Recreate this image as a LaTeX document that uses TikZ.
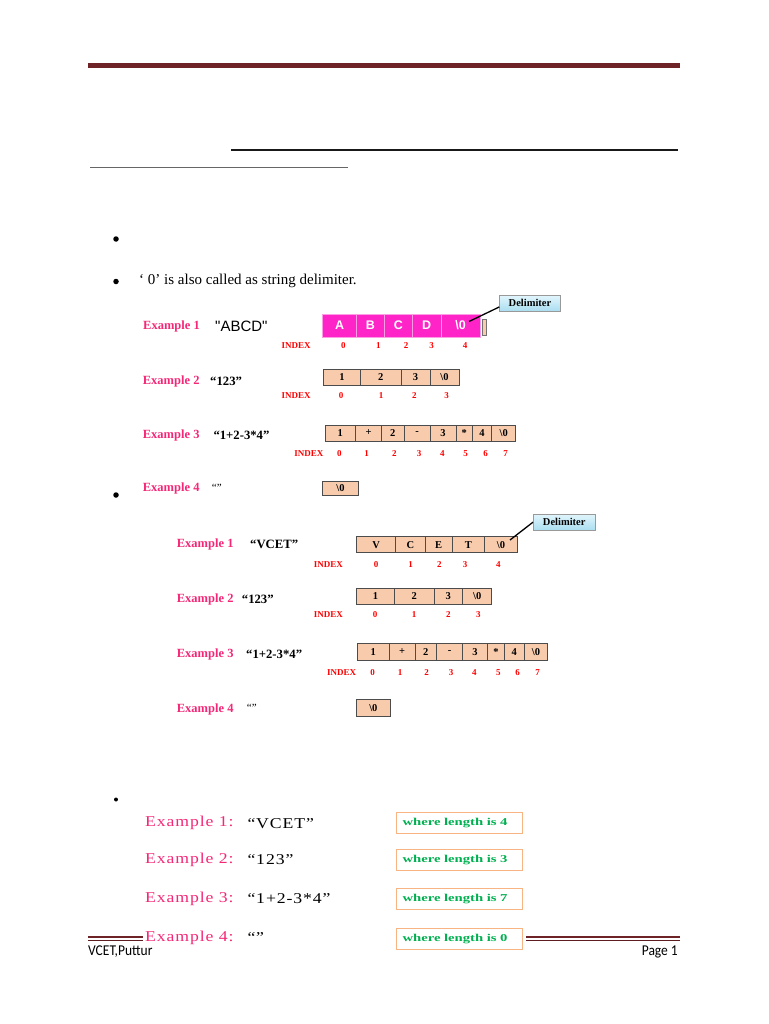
\documentclass[tikz,border=0pt]{standalone}
\usepackage{fontspec}
\setmainfont{Liberation Serif}
\newfontfamily\arialf{Liberation Sans}
\newfontfamily\footf[FakeStretch=0.9]{Carlito}
\newfontfamily\spacedf[FakeStretch=1.18,LetterSpace=6]{Liberation Serif}
\newfontfamily\greenf[FakeStretch=1.4]{Liberation Serif}
\definecolor{rulered}{RGB}{110,35,38}
\definecolor{mag}{RGB}{255,36,200}
\definecolor{peach}{RGB}{248,203,173}
\definecolor{expink}{RGB}{245,40,120}
\definecolor{lenorange}{RGB}{248,180,130}
\definecolor{lengreen}{RGB}{0,176,80}
\definecolor{idxred}{RGB}{255,0,0}
\definecolor{dtop}{RGB}{225,245,252}
\definecolor{dbot}{RGB}{170,222,240}
\newcommand\cellrow[6]{%
  \foreach \a/\b/\t [count=\i] in {#6} {
    \path[#4] (\a,#2) rectangle (\b,#3);
    \node[#5] (#1\i) at ({(\a+\b)/2},{(#2+#3)/2}) {\t};
  }}
\newcommand\idxrow[3]{%
  \foreach \p/\t [count=\i] in {#3} {
    \node[idx] (#1\i) at (\p,#2) {\t};
  }}
\begin{document}
\begin{tikzpicture}[x=1pt,y=-1pt,
  exlab/.style={anchor=west,text=expink,font=\bfseries\fontsize{12.5}{14}\selectfont,inner sep=0pt},
  strlab/.style={anchor=west,font=\bfseries\fontsize{12.7}{14}\selectfont,inner sep=0pt},
  idx/.style={text=idxred,font=\bfseries\fontsize{9}{10}\selectfont,inner sep=0pt},
  celltxt/.style={font=\bfseries\fontsize{10.5}{12}\selectfont,inner sep=0pt},
  pinktxt/.style={text=white,font=\arialf\bfseries\fontsize{12.5}{14}\selectfont,inner sep=0pt},
  tancell/.style={fill=peach,draw=black!70,line width=1pt},
  pinkcell/.style={fill=mag,draw=mag!45!white,line width=0.6pt},
  delim/.style={draw=black!40,line width=0.5pt,top color=dtop,bottom color=dbot,
    font=\bfseries\fontsize{10.5}{12}\selectfont,minimum width=61pt,minimum height=15.5pt,inner sep=0pt},
  delimline/.style={line width=1.3pt,black},
  bullet/.style={circle,fill=black,inner sep=0pt,minimum size=5.5pt},
  bodytxt/.style={anchor=west,font=\fontsize{15}{17}\selectfont,inner sep=0pt},
  bigex/.style={anchor=west,text=expink,font=\spacedf\fontsize{15}{17}\selectfont,inner sep=0pt},
  bigstr/.style={anchor=west,font=\spacedf\fontsize{15}{17}\selectfont,inner sep=0pt},
  lenbox/.style={anchor=west,draw=lenorange,line width=1pt,fill=white,minimum height=21pt,
    text width=114pt,align=left,inner xsep=6pt,inner ysep=0pt,text=lengreen,
    font=\greenf\bfseries\fontsize{10.5}{12}\selectfont},
  foot/.style={font=\footf\fontsize{15}{17}\selectfont,inner sep=0pt}
]
\fill[white] (0,0) rectangle (768,1024);
\useasboundingbox (0,0) rectangle (768,1024);

% header rule and underlines
\fill[rulered] (88,63.5) rectangle (680,68.5);
\draw[line width=1.2pt,black!90] (231,150) -- (678,150);
\draw[line width=1.5pt,black!60] (90,167.5) -- (348,167.5);

% bullets and text
\node[bullet] (b1) at (116,239) {};
\node[bullet] (b2) at (116,281.5) {};
\node[bodytxt] (t2) at (139,281) {‘ 0’ is also called as string delimiter.};
\node[bullet] (b3) at (116,495) {};
\node[bullet,minimum size=4pt] (b4) at (116,799.5) {};

% ---------- Section 1 ----------
\node[exlab] (s1e1) at (143,326.7) {Example 1};
\node[anchor=west,font=\arialf\fontsize{15}{17}\selectfont,inner sep=0pt] (s1s1) at (215,326.5) {"ABCD"};
\cellrow{s1r1c}{314}{337}{pinkcell}{pinktxt}{322.7/356.7/A,356.7/384.3/B,384.3/412.3/C,412.3/441/D,441/480/{\textbackslash0}}
\path[fill=peach,draw=black!55,line width=0.6pt] (482,319.5) rectangle (486.5,335);
\node[delim] (delim1) at (530,303.2) {Delimiter};
\coordinate (d1tail) at (469,321.5);
\draw[delimline] (d1tail) -- (delim1.187);
\node[idx] (s1i1) at (296.2,345.5) {INDEX};
\idxrow{s1r1i}{345.5}{343.3/0,378.3/1,406/2,431.7/3,465/4}

\node[exlab] (s1e2) at (142.7,381.7) {Example 2};
\node[strlab] (s1s2) at (210,381.7) {“123”};
\cellrow{s1r2c}{369.3}{385.7}{tancell}{celltxt}{323.3/360.7/1,360.7/401/2,401/430/3,430/459/{\textbackslash0}}
\node[idx] (s1i2) at (296.2,396) {INDEX};
\idxrow{s1r2i}{396}{341/0,381/1,414.3/2,446.7/3}

\node[exlab] (s1e3) at (142.7,435) {Example 3};
\node[strlab] (s1s3) at (213.3,435) {“1+2-3*4”};
\cellrow{s1r3c}{425}{441}{tancell}{celltxt}{325/355.7/1,355.7/381.7/+,381.7/404/2,404/430/-,430/456/3,456/472.3/*,472.3/491.7/4,491.7/515.7/{\textbackslash0}}
\node[idx] (s1i3) at (308.8,454) {INDEX};
\idxrow{s1r3i}{454}{339.3/0,366.7/1,394.3/2,419/3,442.3/4,465.7/5,485.7/6,505.7/7}

\node[exlab] (s1e4) at (142.7,488.3) {Example 4};
\node[strlab,font=\fontsize{11}{12}\selectfont] (s1s4) at (211.7,487.5) {“”};
\cellrow{s1r4c}{481}{495}{tancell}{celltxt}{322.7/358.3/{\textbackslash0}}

% ---------- Section 2 ----------
\node[exlab] (s2e1) at (176.7,544.3) {Example 1};
\node[strlab] (s2s1) at (250,544.3) {“VCET”};
\cellrow{s2r1c}{536.7}{552.7}{tancell}{celltxt}{356.7/395.7/V,395.7/425/C,425/452.3/E,452.3/484.3/T,484.3/517.7/{\textbackslash0}}
\node[delim,minimum width=62pt,minimum height=16pt] (delim2) at (564.2,522.2) {Delimiter};
\coordinate (d2tail) at (510,540);
\draw[delimline] (d2tail) -- (delim2.west);
\node[idx] (s2i1) at (328.3,564.3) {INDEX};
\idxrow{s2r1i}{564.3}{376/0,410.7/1,439.3/2,465/3,498.3/4}

\node[exlab] (s2e2) at (176.7,599.3) {Example 2};
\node[strlab] (s2s2) at (241.7,599.3) {“123”};
\cellrow{s2r2c}{588.3}{604}{tancell}{celltxt}{356.7/394.3/1,394.3/434/2,434/462.7/3,462.7/491.7/{\textbackslash0}}
\node[idx] (s2i2) at (328.3,614.3) {INDEX};
\idxrow{s2r2i}{614.3}{375/0,414/1,448.3/2,478.3/3}

\node[exlab] (s2e3) at (176.7,654) {Example 3};
\node[strlab] (s2s3) at (246,654) {“1+2-3*4”};
\cellrow{s2r3c}{643.3}{660.7}{tancell}{celltxt}{357.3/389.3/1,389.3/415/+,415/436.7/2,436.7/462.3/-,462.3/487.7/3,487.7/504.3/*,504.3/524.3/4,524.3/547.7/{\textbackslash0}}
\node[idx] (s2i3) at (341.7,672.7) {INDEX};
\idxrow{s2r3i}{672.7}{372.7/0,400/1,426.7/2,451/3,474.3/4,498.3/5,517.7/6,537.7/7}

\node[exlab] (s2e4) at (176.7,709) {Example 4};
\node[strlab,font=\fontsize{11}{12}\selectfont] (s2s4) at (246.7,708) {“”};
\cellrow{s2r4c}{699.3}{716}{tancell}{celltxt}{356.7/390/{\textbackslash0}}

% ---------- Section 3 ----------
\node[bigex] (s3e1) at (145,823.3) {Example 1:};
\node[bigstr] (s3s1) at (247.3,823.3) {“VCET”};
\node[lenbox] (len1) at (396,823.3) {where length is 4};

\node[bigex] (s3e2) at (145,860) {Example 2:};
\node[bigstr] (s3s2) at (247.3,860) {“123”};
\node[lenbox] (len2) at (396,860) {where length is 3};

\node[bigex] (s3e3) at (145,899) {Example 3:};
\node[bigstr] (s3s3) at (247.3,899) {“1+2-3*4”};
\node[lenbox] (len3) at (396,899) {where length is 7};

% footer rules
\draw[rulered,line width=2pt] (88,937.2) -- (143,937.2);
\draw[rulered!85!black,line width=0.8pt] (88,940) -- (143,940);
\draw[rulered,line width=2pt] (526,937.2) -- (680,937.2);
\draw[rulered!85!black,line width=0.8pt] (526,940) -- (680,940);
\node[foot,anchor=west] (f1) at (88,952) {VCET,Puttur};
\node[foot,anchor=east] (f2) at (678,952) {Page 1};

\node[bigex] (s3e4) at (145,937.5) {Example 4:};
\node[bigstr] (s3s4) at (247.3,937.5) {“”};
\node[lenbox] (len4) at (396,939) {where length is 0};
\end{tikzpicture}
\end{document}
